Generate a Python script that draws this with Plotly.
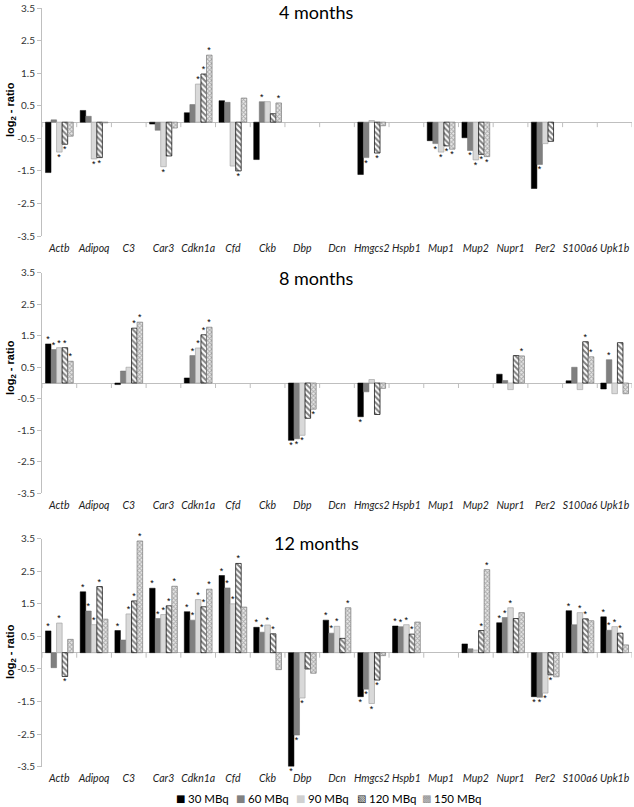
import plotly.graph_objects as go

genes = ["Actb", "Adipoq", "C3", "Car3", "Cdkn1a", "Cfd", "Ckb", "Dbp", "Dcn",
         "Hmgcs2", "Hspb1", "Mup1", "Mup2", "Nupr1", "Per2", "S100a6", "Upk1b"]
doses = ["30 MBq", "60 MBq", "90 MBq", "120 MBq", "150 MBq"]
legend_glyphs = ["■", "■", "■", "▧", "▩"]
panel_titles = ["4 months", "8 months", "12 months"]
y_ticks = [3.5, 2.5, 1.5, 0.5, -0.5, -1.5, -2.5, -3.5]
N = None

# ---- 4 months: values per dose (order = genes) ----
m4_30 = [-1.55, 0.36, N, -0.06, 0.29, 0.66, -1.15, N, N, -1.61, N, -0.57, -0.48, N, -2.04, N, N]
m4_60 = [0.07, 0.18, N, -0.25, 0.54, 0.61, 0.63, N, N, -1.09, N, -0.66, -0.87, N, -1.30, N, N]
m4_90 = [-0.92, -1.13, N, -1.37, 1.17, -1.35, 0.63, N, N, 0.05, N, -0.92, -1.16, N, -0.66, N, N]
m4_120 = [-0.68, -1.09, N, -1.04, 1.48, -1.50, 0.26, N, N, -0.95, N, -0.73, -0.99, N, -0.59, N, N]
m4_150 = [-0.43, -0.02, N, -0.18, 2.06, 0.74, 0.59, N, N, -0.11, N, -0.83, -1.06, N, N, N, N]
m4_sig30 = [0]*17
m4_sig60 = [0, 0, 0, 0, 0, 0, 1, 0, 0, 1, 0, 1, 1, 0, 1, 0, 0]
m4_sig90 = [1, 1, 0, 1, 1, 0, 0, 0, 0, 0, 0, 1, 1, 0, 0, 0, 0]
m4_sig120 = [1, 1, 0, 0, 1, 1, 0, 0, 0, 1, 0, 1, 1, 0, 0, 0, 0]
m4_sig150 = [0, 0, 0, 0, 1, 0, 1, 0, 0, 0, 0, 1, 1, 0, 0, 0, 0]

# ---- 8 months ----
m8_30 = [1.24, N, -0.05, N, 0.16, N, N, -1.82, N, -1.07, N, N, N, 0.28, N, 0.07, -0.19]
m8_60 = [1.06, N, 0.38, N, 0.87, N, N, -1.77, N, -0.28, N, N, N, 0.08, N, 0.50, 0.74]
m8_90 = [1.12, N, 0.50, N, 1.11, N, N, -1.66, N, 0.11, N, N, N, -0.21, N, -0.21, -0.34]
m8_120 = [1.12, N, 1.74, N, 1.53, N, N, -1.12, N, -1.00, N, N, N, 0.87, N, 1.31, 1.28]
m8_150 = [0.69, N, 1.93, N, 1.77, N, N, -0.83, N, -0.17, N, N, N, 0.86, N, 0.83, -0.34]
m8_sig30 = [1, 0, 0, 0, 0, 0, 0, 1, 0, 1, 0, 0, 0, 0, 0, 0, 0]
m8_sig60 = [1, 0, 0, 0, 1, 0, 0, 1, 0, 0, 0, 0, 0, 0, 0, 0, 1]
m8_sig90 = [1, 0, 0, 0, 1, 0, 0, 1, 0, 0, 0, 0, 0, 0, 0, 0, 0]
m8_sig120 = [1, 0, 1, 0, 1, 0, 0, 0, 0, 0, 0, 0, 0, 0, 0, 1, 0]
m8_sig150 = [1, 0, 1, 0, 1, 0, 0, 1, 0, 0, 0, 0, 0, 1, 0, 1, 0]

# ---- 12 months ----
m12_30 = [0.67, 1.87, 0.68, 1.98, 1.26, 2.37, 0.78, -3.49, 1.00, -1.35, 0.82, N, 0.27, 0.92, -1.35, 1.29, 1.10]
m12_60 = [-0.46, 1.28, 0.39, 1.05, 1.00, 1.99, 0.63, -2.53, 0.60, -1.12, 0.80, N, 0.12, 1.08, -1.37, 0.86, 0.69]
m12_90 = [0.91, 0.86, 1.19, 1.17, 1.63, 1.50, 0.85, -1.39, 0.81, -1.56, 0.86, N, 0.08, 1.38, -1.24, 1.23, 0.80]
m12_120 = [-0.73, 2.03, 1.59, 1.44, 1.41, 2.74, 0.58, -0.50, 0.44, -0.84, 0.57, N, 0.68, 1.05, -0.68, 1.04, 0.60]
m12_150 = [0.41, 1.03, 3.43, 2.04, 1.95, 1.40, -0.52, -0.63, 1.38, -0.09, 0.94, N, 2.55, 1.23, -0.74, 0.98, 0.24]
m12_sig30 = [1, 1, 1, 1, 1, 1, 1, 1, 1, 1, 1, 0, 0, 1, 1, 1, 1]
m12_sig60 = [0, 1, 0, 1, 1, 1, 1, 1, 1, 1, 1, 0, 0, 1, 1, 0, 1]
m12_sig90 = [1, 1, 1, 1, 1, 1, 1, 1, 1, 1, 1, 0, 0, 1, 1, 1, 1]
m12_sig120 = [1, 1, 1, 1, 1, 1, 1, 0, 0, 1, 1, 0, 1, 0, 1, 1, 1]
m12_sig150 = [0, 0, 1, 1, 1, 0, 0, 0, 1, 0, 0, 0, 1, 0, 0, 0, 0]

panels = [
    ([m4_30, m4_60, m4_90, m4_120, m4_150], [m4_sig30, m4_sig60, m4_sig90, m4_sig120, m4_sig150]),
    ([m8_30, m8_60, m8_90, m8_120, m8_150], [m8_sig30, m8_sig60, m8_sig90, m8_sig120, m8_sig150]),
    ([m12_30, m12_60, m12_90, m12_120, m12_150], [m12_sig30, m12_sig60, m12_sig90, m12_sig120, m12_sig150]),
]

styles = [
    dict(color="#000000", line=dict(color="#000000", width=0.5)),
    dict(color="#808080", line=dict(color="#6e6e6e", width=0.5)),
    dict(color="#d9d9d9", line=dict(color="#a6a6a6", width=0.7)),
    dict(color="#ffffff", line=dict(color="#000000", width=0.7),
         pattern=dict(shape="\\", fgcolor="#000000", bgcolor="#ffffff", size=4, solidity=0.5)),
    dict(color="#e8e8e8", line=dict(color="#7a7a7a", width=0.7),
         pattern=dict(shape="x", fgcolor="#6a6a6a", bgcolor="#e8e8e8", size=3, solidity=0.5)),
]
legend_glyph_colors = ["#000000", "#808080", "#d0d0d0", "#222222", "#8c8c8c"]

FONT = "Lato, Open Sans, sans-serif"
W, H = 634, 807
ML, MR, MT, MB = 42, 2, 8, 40
plot_h = H - MT - MB
plot_w = W - ML - MR

def frac(px):
    return (H - MB - px) / plot_h

def xfrac(px):
    return (px - ML) / plot_w

domains = [
    [frac(236), frac(8.3)],
    [frac(493.3), frac(272.7)],
    [frac(766.7), frac(538.7)],
]
title_center_px = [12, 278, 543]
ylab_center_px = [110, 368, 652]
legend_symbol_px = [180, 240, 300, 361, 426]
legend_text_px = [186, 246, 306, 367, 432]

fig = go.Figure()
shapes = []
annotations = []
for p, (vals, sigs) in enumerate(panels):
    xa = "x" if p == 0 else f"x{p+1}"
    ya = "y" if p == 0 else f"y{p+1}"
    for d in range(5):
        fig.add_trace(go.Bar(
            x=genes, y=vals[d], name=doses[d], xaxis=xa, yaxis=ya,
            marker=styles[d], offsetgroup=str(d), legendgroup=doses[d],
            showlegend=False,
            text=["*" if s else "" for s in sigs[d]],
            textposition="outside", constraintext="none", cliponaxis=False,
            textfont=dict(size=9, color="#000000", family="Arial"),
            hoverinfo="skip",
        ))
    key = "" if p == 0 else str(p + 1)
    fig.layout["xaxis" + key] = dict(
        domain=[0, 1], anchor=ya, type="category", categoryorder="array",
        categoryarray=genes, range=[-0.5, 16.5], showline=False, ticks="",
        showgrid=False, automargin=False,
        tickfont=dict(family=FONT, size=10.5, color="#222222", style="italic"),
        ticklabelstandoff=4,
    )
    fig.layout["yaxis" + key] = dict(
        domain=domains[p], anchor=xa, range=[-3.5, 3.5], tickvals=y_ticks,
        ticktext=[f"{v:.1f}" for v in y_ticks], showgrid=False, automargin=False,
        zeroline=True, zerolinecolor="#bfbfbf", zerolinewidth=1,
        showline=True, linecolor="#bfbfbf", linewidth=1,
        ticks="outside", ticklen=4, tickcolor="#bfbfbf",
        tickfont=dict(family=FONT, size=10, color="#333333"),
    )
    for i in range(len(genes) + 1):
        shapes.append(dict(type="line", xref=xa, yref=ya, x0=i - 0.5, x1=i - 0.5,
                           ysizemode="pixel", yanchor=0, y0=0, y1=-5,
                           line=dict(color="#bfbfbf", width=1)))
    annotations.append(dict(text=panel_titles[p], xref="paper", yref="paper",
                            x=xfrac(316), y=frac(title_center_px[p]),
                            xanchor="center", yanchor="middle",
                            showarrow=False, font=dict(family=FONT, size=18, color="#000000")))
    annotations.append(dict(text="<b>log<sub>2</sub> - ratio</b>", xref="paper", yref="paper",
                            x=xfrac(11), y=frac(ylab_center_px[p]),
                            xanchor="center", yanchor="middle", textangle=-90, showarrow=False,
                            font=dict(family="Arial", size=11, color="#000000")))

# legend row (glyph + label per dose)
for d in range(5):
    annotations.append(dict(text=legend_glyphs[d], xref="paper", yref="paper",
                            x=xfrac(legend_symbol_px[d]), y=frac(798),
                            xanchor="center", yanchor="middle", showarrow=False,
                            font=dict(family="DejaVu Sans", size=10, color=legend_glyph_colors[d])))
    annotations.append(dict(text=doses[d], xref="paper", yref="paper",
                            x=xfrac(legend_text_px[d]), y=frac(798),
                            xanchor="left", yanchor="middle", showarrow=False,
                            font=dict(family=FONT, size=11.5, color="#000000")))

fig.update_layout(
    width=W, height=H, margin=dict(l=ML, r=MR, t=MT, b=MB, autoexpand=False),
    plot_bgcolor="#ffffff", paper_bgcolor="#ffffff",
    barmode="group", bargap=0.2, bargroupgap=0.0,
    shapes=shapes, annotations=annotations, showlegend=False,
    font=dict(family=FONT),
)

fig.write_html("out.html", config={"displayModeBar": False},
               post_script="document.body.style.margin='0';document.body.style.overflow='hidden';")
